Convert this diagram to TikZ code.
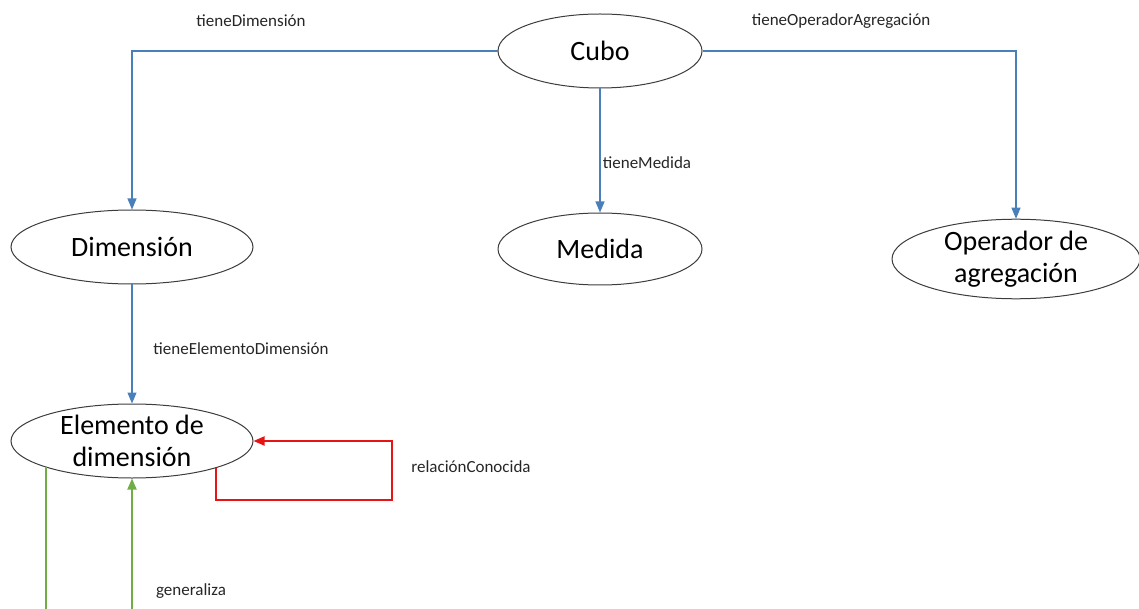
\documentclass[tikz,border=0pt]{standalone}
\usepackage{fontspec}
\setmainfont{Carlito}
\usetikzlibrary{arrows.meta,shapes.geometric}
\definecolor{cuboblue}{RGB}{74,128,186}
\definecolor{relred}{RGB}{230,20,20}
\definecolor{gengreen}{RGB}{112,173,71}
\definecolor{rim}{RGB}{60,60,60}

\begin{document}
\begin{tikzpicture}[x=1pt, y=-1pt,
  concept/.style={draw=rim, line width=1pt, ellipse, inner sep=0pt, align=center,
    minimum width=242pt, minimum height=74pt, font=\fontsize{28}{32}\selectfont},
  rel/.style={font=\fontsize{17}{20}\selectfont, text=black!85},
  hasarc/.style={draw=cuboblue, line width=1.2pt, -{Triangle[length=11pt,width=9pt]}},
  redarc/.style={draw=relred, line width=1.8pt, -{Triangle[length=11pt,width=9pt]}},
  greenarc/.style={draw=gengreen, line width=1.8pt}]
  \useasboundingbox (0,0) rectangle (1139,609);
  \node[concept, minimum width=204pt] (cubo) at (600,51) {Cubo};
  \node[concept] (dim) at (132,247) {Dimensión};
  \node[concept, minimum width=204pt, minimum height=72pt] (medida) at (600,249) {Medida};
  \node[concept, minimum width=248pt, minimum height=78pt] (oper) at (1016,259) {Operador de\\agregación};
  \node[concept] (elem) at (132,441) {Elemento de\\dimensión};
  \coordinate (rc) at (392,500);
  \coordinate (gl) at (47,612);
  \coordinate (gr) at (132,612);
  % relaciones de Cubo
  \draw[hasarc] (cubo.west) -| (dim.north);
  \draw[hasarc] (cubo.east) -| (oper.north);
  \draw[hasarc] (cubo.south) -- (medida.north);
  \draw[hasarc] (dim.south) -- (elem.north);
  \draw[redarc] (elem.-18) |- (rc) |- (elem.east);
  \draw[greenarc] (elem.197) -- (elem.197 |- gl);
  \draw[greenarc, -{Triangle[length=11pt,width=9pt]}] (gr) -- (elem.south);
  % etiquetas
  \node[rel] (l-dim) at (251,21) {tieneDimensión};
  \node[rel] (l-oper) at (841,21) {tieneOperadorAgregación};
  \node[rel] (l-med) at (647,163) {tieneMedida};
  \node[rel] (l-elem) at (241,349) {tieneElementoDimensión};
  \node[rel] (l-rel) at (471,467) {relaciónConocida};
  \node[rel] (l-gen) at (191,591) {generaliza};
\end{tikzpicture}
\end{document}
